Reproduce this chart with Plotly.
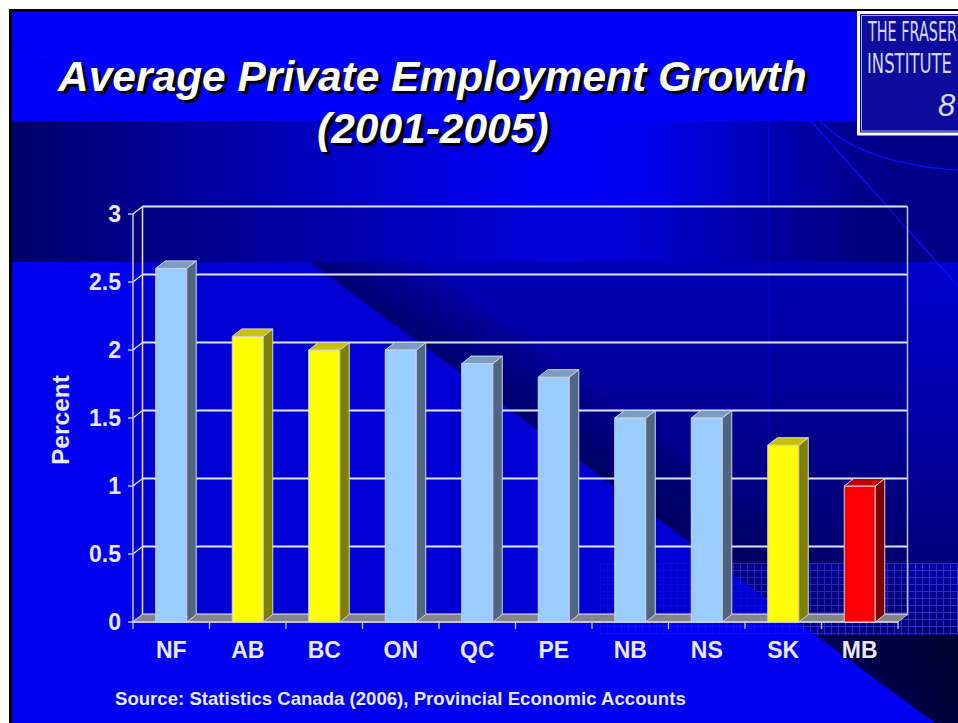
import base64
import plotly.graph_objects as go

# ---------------- data ----------------
provinces = ["NF", "AB", "BC", "ON", "QC", "PE", "NB", "NS", "SK", "MB"]
growth_pct = [2.6, 2.1, 2.0, 2.0, 1.9, 1.8, 1.5, 1.5, 1.3, 1.0]
y_tick_values = [0, 0.5, 1, 1.5, 2, 2.5, 3]
y_tick_labels = ["0", "0.5", "1", "1.5", "2", "2.5", "3"]

title_lines = ["Average Private Employment Growth", "(2001-2005)"]
y_title = "Percent"
source_note = "Source: Statistics Canada (2006), Provincial Economic Accounts"

# colour group of each province (others use the default light blue)
highlight = {"AB": "yellow", "BC": "yellow", "SK": "yellow", "MB": "red"}
PALETTE = {  # front, side, top
    "blue": ("#99CCFF", "#4F6681", "#7A9DC4"),
    "yellow": ("#FFFF00", "#808000", "#C8C000"),
    "red": ("#FF0000", "#800000", "#C00000"),
}
EDGE = "#D4D4E4"
WALL_LINE = "#E4E4EE"
TEXT = "#E8E8EE"
FONT = "Arial, Liberation Sans, sans-serif"

# ---------------- geometry ----------------
FIG_W, FIG_H = 958, 723
M_L, M_R, M_T, M_B = 124, 41, 187, 93
PLOT_W = FIG_W - M_L - M_R
PLOT_H = FIG_H - M_T - M_B
PX_PER_CAT = 76.5
PX_PER_UNIT = 136.0
AXIS_X_PX = 133      # front-left corner of the floor
AXIS_Y_PX = 622      # value 0 on the front plane

x_lo = -0.5 - (AXIS_X_PX - M_L) / PX_PER_CAT
x_range = [x_lo, x_lo + PLOT_W / PX_PER_CAT]
y_lo = -((FIG_H - M_B) - AXIS_Y_PX) / PX_PER_UNIT
y_range = [y_lo, y_lo + PLOT_H / PX_PER_UNIT]

DX = 9.5 / PX_PER_CAT     # depth offset of the 3-D look, in axis units
DY = 7.5 / PX_PER_UNIT
BAR_W = 31 / PX_PER_CAT


def paper_x(px):
    return (px - M_L) / PLOT_W


def paper_y(py):
    return (FIG_H - M_B - py) / PLOT_H


# ---------------- slide background (drawn as an svg image) ----------------
bg_svg = """<svg xmlns="http://www.w3.org/2000/svg" width="958" height="723" viewBox="0 0 958 723">
<defs>
<linearGradient id="band" gradientUnits="userSpaceOnUse" x1="12" y1="0" x2="958" y2="0">
<stop offset="0" stop-color="#00006a"/>
<stop offset="0.34" stop-color="#0000c4"/>
<stop offset="0.57" stop-color="#0000fa"/>
<stop offset="0.66" stop-color="#0000f0"/>
<stop offset="0.9" stop-color="#00008c"/>
<stop offset="1" stop-color="#000086"/>
</linearGradient>
<linearGradient id="tri" gradientUnits="userSpaceOnUse" x1="0" y1="262" x2="0" y2="723">
<stop offset="0" stop-color="#0000d0"/>
<stop offset="0.35" stop-color="#0000a6"/>
<stop offset="0.65" stop-color="#00007a"/>
<stop offset="0.82" stop-color="#000030"/>
<stop offset="1" stop-color="#000008"/>
</linearGradient>
<linearGradient id="shade" gradientUnits="userSpaceOnUse" x1="400" y1="328" x2="448" y2="263">
<stop offset="0" stop-color="#000060" stop-opacity="0.7"/>
<stop offset="1" stop-color="#000060" stop-opacity="0"/>
</linearGradient>
<pattern id="grid" width="7" height="7" patternUnits="userSpaceOnUse" x="600" y="563">
<path d="M0 0.5H7M0.5 0V7" stroke="#4848ff" stroke-width="1" fill="none"/>
</pattern>
<clipPath id="darkside"><polygon points="310,262 958,262 958,723 935,723"/></clipPath>
</defs>
<rect width="958" height="723" fill="#ffffff"/>
<rect x="9" y="9" width="949" height="714" fill="#000000"/>
<rect x="12" y="12" width="946" height="711" fill="#0000f2"/>
<rect x="12" y="12" width="946" height="109" fill="#0000ff"/>
<path d="M12 40 L124 121" stroke="#0000b8" stroke-width="1" fill="none"/>
<rect x="12" y="121" width="946" height="141" fill="url(#band)"/>
<polygon points="310,262 958,262 958,723 935,723" fill="url(#tri)"/>
<polygon points="310,262 420,262 958,659 958,723 935,723" fill="url(#shade)"/>
<rect x="600" y="563" width="358" height="72" fill="#0000ff" fill-opacity="0.3"/>
<rect x="600" y="563" width="358" height="72" fill="url(#grid)" opacity="0.18"/>
<rect x="600" y="563" width="358" height="72" fill="url(#grid)" opacity="0.5" clip-path="url(#darkside)"/>
<path d="M769 121 V563" stroke="#1010ff" stroke-width="1" opacity="0.6"/>
<path d="M811 121 L958 286" stroke="#0a0aff" stroke-width="1.4" fill="none"/>
<path d="M820 121 Q862 164 958 170" stroke="#0a0aff" stroke-width="1.4" fill="none"/>
<rect x="858.5" y="12.5" width="110" height="121.5" fill="#0c0c9e" stroke="#ffffff" stroke-width="3"/>
<rect x="861.5" y="15.5" width="110" height="115.5" fill="none" stroke="#a8a8e8" stroke-width="1"/>
</svg>"""
bg_uri = "data:image/svg+xml;base64," + base64.b64encode(bg_svg.encode()).decode()

# ---------------- 3-D frame: wall, gridlines, floor, ticks ----------------
x_left, x_right = -0.5, len(provinces) - 0.5
y_top = y_tick_values[-1]
shapes = []


def line_shape(x0, y0, x1, y1, color, width):
    return dict(type="line", xref="x", yref="y", x0=x0, y0=y0, x1=x1, y1=y1,
                line=dict(color=color, width=width), layer="below")


shapes.append(dict(
    type="path", xref="x", yref="y", layer="below",
    path=(f"M{x_left},0 L{x_left + DX},{DY} L{x_right + DX},{DY} "
          f"L{x_right + DX},{y_top + DY} L{x_left + DX},{y_top + DY} L{x_left},{y_top} Z"),
    fillcolor="rgba(0,0,50,0.16)", line=dict(width=0)))
for v in y_tick_values:
    shapes.append(line_shape(x_left + DX, v + DY, x_right + DX, v + DY, WALL_LINE, 2))
    shapes.append(line_shape(x_left, v, x_left + DX, v + DY, WALL_LINE, 1.3))
    shapes.append(line_shape(x_left - 5 / PX_PER_CAT, v, x_left, v, WALL_LINE, 1.3))
shapes.append(line_shape(x_left, 0, x_left, y_top, "#C8C8DC", 1.5))
shapes.append(line_shape(x_left + DX, DY, x_left + DX, y_top + DY, WALL_LINE, 1.5))
shapes.append(line_shape(x_right + DX, DY, x_right + DX, y_top + DY, "#C0C0D8", 1.5))
shapes.append(dict(
    type="path", xref="x", yref="y", layer="below",
    path=f"M{x_left},0 L{x_right},0 L{x_right + DX},{DY} L{x_left + DX},{DY} Z",
    fillcolor="#858585", line=dict(color="#B8B8C4", width=1)))
shapes.append(line_shape(x_left, 0, x_right, 0, "#D8D8E4", 1.5))
for k in range(len(provinces) + 1):
    shapes.append(line_shape(k - 0.5, 0, k - 0.5, -7 / PX_PER_UNIT, "#C8C8DC", 1.3))

# ---------------- bars ----------------
idx = list(range(len(provinces)))
groups = [highlight.get(p, "blue") for p in provinces]

fig = go.Figure()
fig.add_trace(go.Bar(
    x=idx, y=growth_pct, width=BAR_W,
    marker=dict(color=[PALETTE[g][0] for g in groups], line=dict(color=EDGE, width=1)),
    hoverinfo="skip", showlegend=False))

for i, v, g in zip(idx, growth_pct, groups):
    xr = i + BAR_W / 2
    xl = i - BAR_W / 2
    fig.add_trace(go.Scatter(
        x=[xr, xr + DX, xr + DX, xr, xr], y=[0, DY, v + DY, v, 0],
        mode="lines", fill="toself", fillcolor=PALETTE[g][1],
        line=dict(color=EDGE, width=1), hoverinfo="skip", showlegend=False))
    fig.add_trace(go.Scatter(
        x=[xl, xr, xr + DX, xl + DX, xl], y=[v, v, v + DY, v + DY, v],
        mode="lines", fill="toself", fillcolor=PALETTE[g][2],
        line=dict(color=EDGE, width=1), hoverinfo="skip", showlegend=False))

# ---------------- text ----------------
annotations = []
title_font = dict(family=FONT, size=42.5, color="#FFFFFF", weight="bold",
                  style="italic", shadow="3px 3px 1px #000000")
annotations.append(dict(text=title_lines[0], x=paper_x(431.5), y=paper_y(76.5),
                        xref="paper", yref="paper", xanchor="center", yanchor="middle",
                        showarrow=False, font=title_font))
annotations.append(dict(text=title_lines[1], x=paper_x(432.5), y=paper_y(128),
                        xref="paper", yref="paper", xanchor="center", yanchor="middle",
                        showarrow=False, font=title_font))
annotations.append(dict(text=y_title, x=paper_x(60), y=paper_y(420), textangle=-90,
                        xref="paper", yref="paper", xanchor="center", yanchor="middle",
                        showarrow=False,
                        font=dict(family=FONT, size=24.5, color=TEXT, weight="bold")))
annotations.append(dict(text=source_note, x=paper_x(400.5), y=paper_y(698.5),
                        xref="paper", yref="paper", xanchor="center", yanchor="middle",
                        showarrow=False,
                        font=dict(family=FONT, size=18.6, color=TEXT, weight="bold")))
logo_font = dict(family="Liberation Sans Narrow, DejaVu Sans Condensed, Arial, sans-serif",
                 size=27, color="#D8D8F6")
annotations.append(dict(text="THE FRASER", x=paper_x(865), y=paper_y(31.5), align="left",
                        width=90, xref="paper", yref="paper", xanchor="left",
                        yanchor="middle", showarrow=False, font=logo_font))
annotations.append(dict(text="INSTITUTE", x=paper_x(865), y=paper_y(63.5), align="left",
                        width=86, xref="paper", yref="paper", xanchor="left",
                        yanchor="middle", showarrow=False, font=logo_font))
annotations.append(dict(text="8", x=paper_x(936), y=paper_y(105.5), align="left",
                        xref="paper", yref="paper", xanchor="left", yanchor="middle",
                        showarrow=False,
                        font=dict(family=FONT, size=31, color="#D8D8F6", style="italic")))

tick_font = dict(family=FONT, size=23, color=TEXT, weight="bold")

fig.update_layout(
    width=FIG_W, height=FIG_H,
    margin=dict(l=M_L, r=M_R, t=M_T, b=M_B, pad=0),
    paper_bgcolor="#FFFFFF", plot_bgcolor="rgba(0,0,0,0)",
    showlegend=False, hovermode=False,
    xaxis=dict(range=x_range, tickvals=idx, ticktext=provinces, showgrid=False,
               zeroline=False, showline=False, ticks="", tickfont=tick_font,
               ticklabelstandoff=4, fixedrange=True),
    yaxis=dict(range=y_range, tickvals=y_tick_values, ticktext=y_tick_labels,
               showgrid=False, zeroline=False, showline=False, ticks="",
               tickfont=tick_font, ticklabelstandoff=2, fixedrange=True),
    shapes=shapes,
    annotations=annotations,
    images=[dict(source=bg_uri, xref="paper", yref="paper",
                 x=paper_x(0), y=paper_y(0), sizex=FIG_W / PLOT_W, sizey=FIG_H / PLOT_H,
                 xanchor="left", yanchor="top", sizing="stretch", layer="below")],
)

# squeeze the condensed logo lettering to its printed width
logo_js = """
var gd = document.getElementById('{plot_id}');
var widths = {'THE FRASER': 89, 'INSTITUTE': 85};
gd.querySelectorAll('text.annotation-text').forEach(function (t) {
  var w = widths[t.textContent];
  if (w) { t.setAttribute('textLength', w); t.setAttribute('lengthAdjust', 'spacingAndGlyphs'); }
});
"""

fig.write_html("out.html", config={"displayModeBar": False, "staticPlot": True},
               post_script=logo_js)
